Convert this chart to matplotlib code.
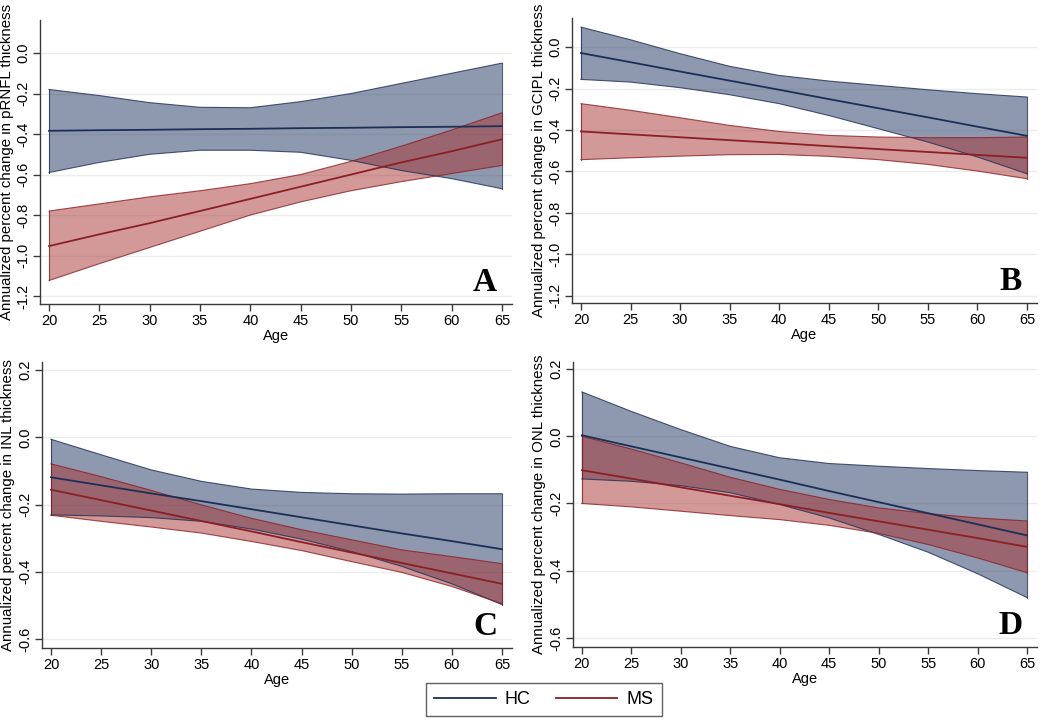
import matplotlib
matplotlib.use("Agg")
import matplotlib.pyplot as plt
from matplotlib.lines import Line2D

plt.rcParams['font.family'] = ['Liberation Sans', 'DejaVu Sans']

age = [20, 25, 30, 35, 40, 45, 50, 55, 60, 65]

# Panel A: pRNFL
a_hc_mean = [-0.384, -0.381, -0.379, -0.376, -0.374, -0.371, -0.369, -0.366, -0.364, -0.361]
a_hc_up = [-0.18, -0.21, -0.245, -0.268, -0.27, -0.24, -0.20, -0.15, -0.10, -0.05]
a_hc_lo = [-0.59, -0.54, -0.50, -0.48, -0.48, -0.49, -0.53, -0.58, -0.62, -0.67]
a_ms_mean = [-0.953, -0.895, -0.84, -0.78, -0.72, -0.66, -0.60, -0.54, -0.485, -0.426]
a_ms_up = [-0.78, -0.745, -0.71, -0.68, -0.645, -0.60, -0.535, -0.46, -0.38, -0.295]
a_ms_lo = [-1.123, -1.04, -0.96, -0.88, -0.80, -0.735, -0.68, -0.635, -0.595, -0.555]

# Panel B: GCIPL
b_hc_mean = [-0.029, -0.073, -0.118, -0.162, -0.206, -0.251, -0.295, -0.339, -0.384, -0.428]
b_hc_up = [0.096, 0.035, -0.032, -0.093, -0.137, -0.164, -0.185, -0.206, -0.225, -0.241]
b_hc_lo = [-0.156, -0.169, -0.196, -0.23, -0.273, -0.33, -0.394, -0.458, -0.53, -0.611]
b_ms_mean = [-0.407, -0.421, -0.435, -0.449, -0.463, -0.478, -0.492, -0.506, -0.520, -0.534]
b_ms_up = [-0.273, -0.305, -0.341, -0.378, -0.407, -0.426, -0.434, -0.437, -0.437, -0.434]
b_ms_lo = [-0.543, -0.534, -0.526, -0.519, -0.518, -0.527, -0.543, -0.566, -0.598, -0.635]

# Panel C: INL
c_hc_mean = [-0.119, -0.143, -0.167, -0.190, -0.214, -0.238, -0.262, -0.286, -0.309, -0.333]
c_hc_up = [-0.006, -0.052, -0.097, -0.131, -0.154, -0.164, -0.168, -0.169, -0.168, -0.168]
c_hc_lo = [-0.231, -0.234, -0.239, -0.25, -0.273, -0.303, -0.34, -0.384, -0.436, -0.498]
c_ms_mean = [-0.156, -0.187, -0.218, -0.249, -0.280, -0.312, -0.343, -0.374, -0.405, -0.436]
c_ms_up = [-0.079, -0.117, -0.158, -0.201, -0.241, -0.275, -0.305, -0.335, -0.355, -0.376]
c_ms_lo = [-0.232, -0.25, -0.267, -0.285, -0.31, -0.337, -0.37, -0.402, -0.444, -0.495]

# Panel D: ONL
d_hc_mean = [0.003, -0.030, -0.063, -0.096, -0.129, -0.163, -0.196, -0.229, -0.262, -0.295]
d_hc_up = [0.132, 0.074, 0.02, -0.03, -0.064, -0.081, -0.089, -0.096, -0.102, -0.107]
d_hc_lo = [-0.127, -0.134, -0.147, -0.168, -0.203, -0.243, -0.292, -0.345, -0.409, -0.48]
d_ms_mean = [-0.101, -0.126, -0.152, -0.177, -0.202, -0.228, -0.253, -0.278, -0.303, -0.329]
d_ms_up = [0.0, -0.038, -0.079, -0.122, -0.158, -0.188, -0.213, -0.23, -0.243, -0.252]
d_ms_lo = [-0.2, -0.21, -0.223, -0.236, -0.248, -0.265, -0.289, -0.322, -0.362, -0.406]

x_ticks = [20, 25, 30, 35, 40, 45, 50, 55, 60, 65]
y_ticks_top = [0.0, -0.2, -0.4, -0.6, -0.8, -1.0, -1.2]
y_ticks_bot = [0.2, 0.0, -0.2, -0.4, -0.6]

HC_LINE = '#1c2f57'
HC_FILL = '#1f3560'
MS_LINE = '#8b1f24'
MS_FILL = '#a83232'

panels = [
    dict(pos=[0.0381, 0.5778, 0.4495, 0.3944], ylim=(-1.239, 0.163), yt=y_ticks_top,
         ylabel='Annualized percent change in pRNFL thickness', letter='A',
         hc=(a_hc_mean, a_hc_lo, a_hc_up), ms=(a_ms_mean, a_ms_lo, a_ms_up)),
    dict(pos=[0.5448, 0.5792, 0.4428, 0.3958], ylim=(-1.234, 0.140), yt=y_ticks_top,
         ylabel='Annualized percent change in GCIPL thickness', letter='B',
         hc=(b_hc_mean, b_hc_lo, b_hc_up), ms=(b_ms_mean, b_ms_lo, b_ms_up)),
    dict(pos=[0.0400, 0.1000, 0.4476, 0.3972], ylim=(-0.627, 0.224), yt=y_ticks_bot,
         ylabel='Annualized percent change in INL thickness', letter='C',
         hc=(c_hc_mean, c_hc_lo, c_hc_up), ms=(c_ms_mean, c_ms_lo, c_ms_up)),
    dict(pos=[0.5457, 0.1014, 0.4419, 0.3958], ylim=(-0.627, 0.221), yt=y_ticks_bot,
         ylabel='Annualized percent change in ONL thickness', letter='D',
         hc=(d_hc_mean, d_hc_lo, d_hc_up), ms=(d_ms_mean, d_ms_lo, d_ms_up)),
]

fig = plt.figure(figsize=(10.5, 7.2), dpi=100)

for p in panels:
    ax = fig.add_axes(p['pos'])
    ax.set_xlim(19.1, 66.0)
    ax.set_ylim(*p['ylim'])
    ax.set_yticks(p['yt'])
    ax.set_yticklabels(['%.1f' % v for v in p['yt']], rotation=90, va='center')
    ax.set_xticks(x_ticks)
    for v in p['yt']:
        ax.axhline(v, color='#ececec', lw=1.0, zorder=0)
    for (mean, lo, up), lc, fc in [(p['hc'], HC_LINE, HC_FILL), (p['ms'], MS_LINE, MS_FILL)]:
        ax.fill_between(age, lo, up, facecolor=fc, alpha=0.5, edgecolor='none', zorder=1)
        ax.plot(age, lo, color=lc, lw=0.8, alpha=0.8, zorder=2)
        ax.plot(age, up, color=lc, lw=0.8, alpha=0.8, zorder=2)
        ax.plot([age[0], age[0]], [lo[0], up[0]], color=lc, lw=0.8, alpha=0.8, zorder=2)
        ax.plot([age[-1], age[-1]], [lo[-1], up[-1]], color=lc, lw=0.8, alpha=0.8, zorder=2)
        ax.plot(age, mean, color=lc, lw=1.3, zorder=3)
    ax.spines['top'].set_visible(False)
    ax.spines['right'].set_visible(False)
    for s in ('left', 'bottom'):
        ax.spines[s].set_color('#3a3a3a')
        ax.spines[s].set_linewidth(1.0)
    ax.tick_params(axis='both', direction='out', length=5, width=1.0, color='#3a3a3a',
                   labelsize=10.5, pad=2)
    ax.set_ylabel(p['ylabel'], fontsize=10.8, labelpad=2)
    ax.set_xlabel('Age', fontsize=10.5, labelpad=1)
    ax.text(0.943, 0.022, p['letter'], transform=ax.transAxes, ha='center', va='bottom',
            fontsize=24, fontweight='bold', family=['Liberation Serif', 'DejaVu Serif'])

handles = [Line2D([0], [0], color=HC_LINE, lw=1.3), Line2D([0], [0], color=MS_LINE, lw=1.3)]
leg = fig.legend(handles, ['HC', 'MS'], loc='center', bbox_to_anchor=(0.518, 0.0285), ncol=2,
                 fontsize=13, frameon=True, fancybox=False, handlelength=3.4,
                 columnspacing=1.4, handletextpad=0.5, borderpad=0.45, borderaxespad=0)
leg.get_frame().set_edgecolor('#3a3a3a')
leg.get_frame().set_linewidth(1.0)

fig.savefig('out.png', dpi=100, facecolor='white')
